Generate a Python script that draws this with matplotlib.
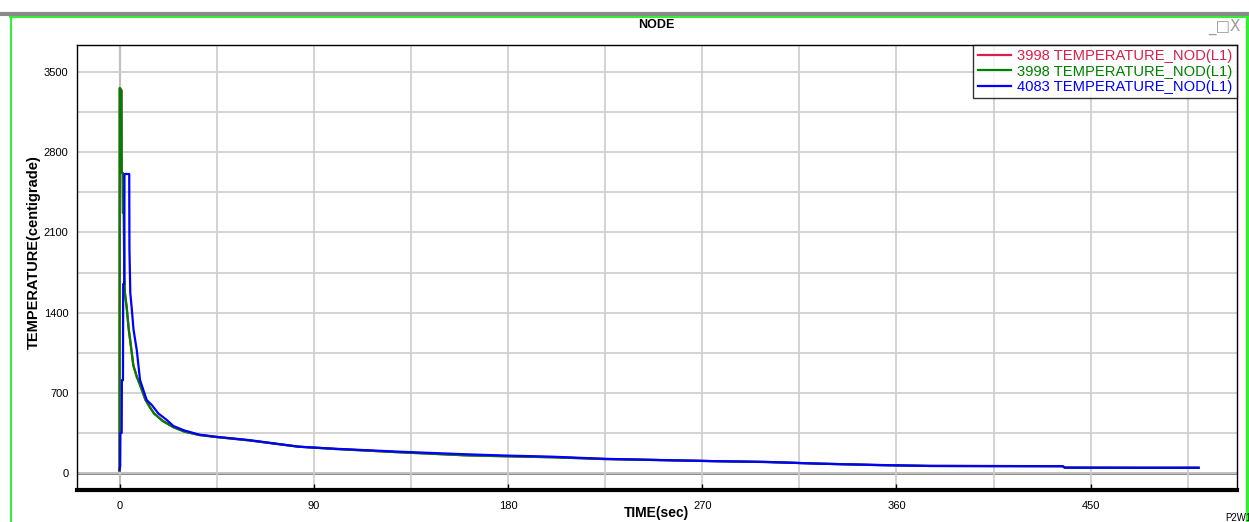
import matplotlib
matplotlib.use('Agg')
import matplotlib.pyplot as plt
from matplotlib import font_manager
from matplotlib.lines import Line2D

# node 3998 (plotted twice in the original, red sits under green)
t_3998 = [0, 0.1, 0.9, 1.0, 1.5, 1.6, 2.0, 2.2, 2.5, 3.3, 4.3, 5, 6.4, 8, 9.5, 12, 14, 16,
          20, 25, 30, 37, 45, 60, 83, 100, 130, 160, 180, 200, 225, 250, 275, 300, 325,
          350, 375, 400, 437, 438, 470, 500]
temp_3998 = [20, 3360, 3340, 2620, 2620, 2270, 2270, 1700, 1570, 1450, 1250, 1150, 940, 840,
             770, 640, 576, 520, 455, 400, 362, 332, 314, 285, 230, 210, 181, 155, 146, 138,
             122, 113, 104, 96, 82, 70, 62, 61, 60, 47, 46, 46]

# node 4083
t_4083 = [0, 0.3, 0.4, 1.0, 1.1, 1.6, 1.7, 2.2, 2.3, 4.5, 4.6, 5.0, 5.6, 6.5, 8, 9.5, 12.6,
          15, 18, 21.9, 25, 30, 37, 45, 60, 83, 100, 130, 160, 180, 200, 225, 250, 275, 300,
          325, 350, 375, 400, 437, 438, 470, 500]
temp_4083 = [30, 60, 350, 350, 810, 810, 1650, 1650, 2610, 2610, 1950, 1570, 1450, 1250, 1073,
             812, 637, 593, 520, 463, 410, 372, 335, 316, 288, 230, 212, 186, 164, 152, 143,
             124, 114, 104, 97, 81, 71, 62, 61, 60, 47, 46, 46]

labels = ['3998 TEMPERATURE_NOD(L1)', '3998 TEMPERATURE_NOD(L1)', '4083 TEMPERATURE_NOD(L1)']
colors = ['#d8204a', '#008000', '#0000ff']
x_ticks = [0, 90, 180, 270, 360, 450]
y_ticks = [0, 700, 1400, 2100, 2800, 3500]

names = {f.name for f in font_manager.fontManager.ttflist}
narrow = 'Liberation Sans Narrow' if 'Liberation Sans Narrow' in names else 'Liberation Sans'
plt.rcParams['font.family'] = ['Liberation Sans', 'DejaVu Sans']

fig = plt.figure(figsize=(12.49, 5.22), dpi=100)
W, H = 1249, 522


def fx(px):
    return px / W


def fy(py):
    return 1 - py / H


# window frame: gray title bar and green border
fig.add_artist(Line2D([0, 1], [fy(14), fy(14)], color='#8a8a8a', lw=3.0))
fig.add_artist(Line2D([fx(10), 1], [fy(17), fy(17)], color='#33ee33', lw=1.5))
fig.add_artist(Line2D([fx(10.5), fx(10.5)], [fy(17), 0], color='#33ee33', lw=1.5))
fig.add_artist(Line2D([fx(1246.5), fx(1246.5)], [fy(17), 0], color='#33ee33', lw=2.5))

ax = fig.add_axes([fx(77), fy(490), fx(1237) - fx(77), fy(45) - fy(490)])

ax.plot(t_3998, temp_3998, color=colors[0], lw=1.6, label=labels[0], zorder=3)
ax.plot(t_3998, temp_3998, color=colors[1], lw=1.6, label=labels[1], zorder=4)
ax.plot(t_4083, temp_4083, color=colors[2], lw=1.6, label=labels[2], zorder=5)

ax.set_xticks(x_ticks)
ax.set_yticks(y_ticks)
ax.set_xticks(range(45, 500, 90), minor=True)
ax.set_yticks(range(350, 3500, 700), minor=True)
ax.set_xlim(-19.7, 517.8)
ax.set_ylim(-148, 3736)
ax.grid(True, which='both', color='#cccccc', lw=1.2, zorder=0)
ax.axhline(0, color='#808080', lw=2, zorder=1)
ax.axvline(0, color='#808080', lw=1.5, zorder=1)

ax.tick_params(axis='x', which='major', direction='in', length=4, width=1,
               labelsize=8, pad=8, colors='black')
ax.tick_params(axis='x', which='minor', length=0)
ax.tick_params(axis='y', which='both', length=0, labelsize=8, pad=6)
for lab in ax.get_xticklabels() + ax.get_yticklabels():
    lab.set_fontfamily(narrow)

for side in ['left', 'top', 'right']:
    ax.spines[side].set_linewidth(1)
ax.spines['bottom'].set_linewidth(3)

ax.set_xlabel('TIME(sec)', fontsize=10, fontweight='bold', family=narrow)
ax.xaxis.set_label_coords(0.5, -0.036)
ax.set_ylabel('TEMPERATURE(centigrade)', fontsize=10.5, fontweight='bold', family=narrow)
ax.yaxis.set_label_coords(-0.031, 0.535)

leg = ax.legend(loc='upper right', fontsize=10.6, frameon=True, fancybox=False,
                edgecolor='black', borderaxespad=0, handlelength=2.3, handletextpad=0.4,
                labelspacing=0.08, borderpad=0.3)
leg.get_frame().set_linewidth(1)
for txt, c in zip(leg.get_texts(), colors):
    txt.set_color(c)

fig.text(fx(656), fy(25), 'NODE', ha='center', va='center', fontsize=9,
         fontweight='bold', family=narrow)
fig.text(fx(1241), fy(27), '_\u25a1X', ha='right', va='center', fontsize=11,
         color='#9a9a9a', family=['DejaVu Sans'])
fig.text(fx(1238), fy(518), 'P2W1', ha='center', va='center', fontsize=7, family=narrow)

fig.savefig('out.png', dpi=100)
